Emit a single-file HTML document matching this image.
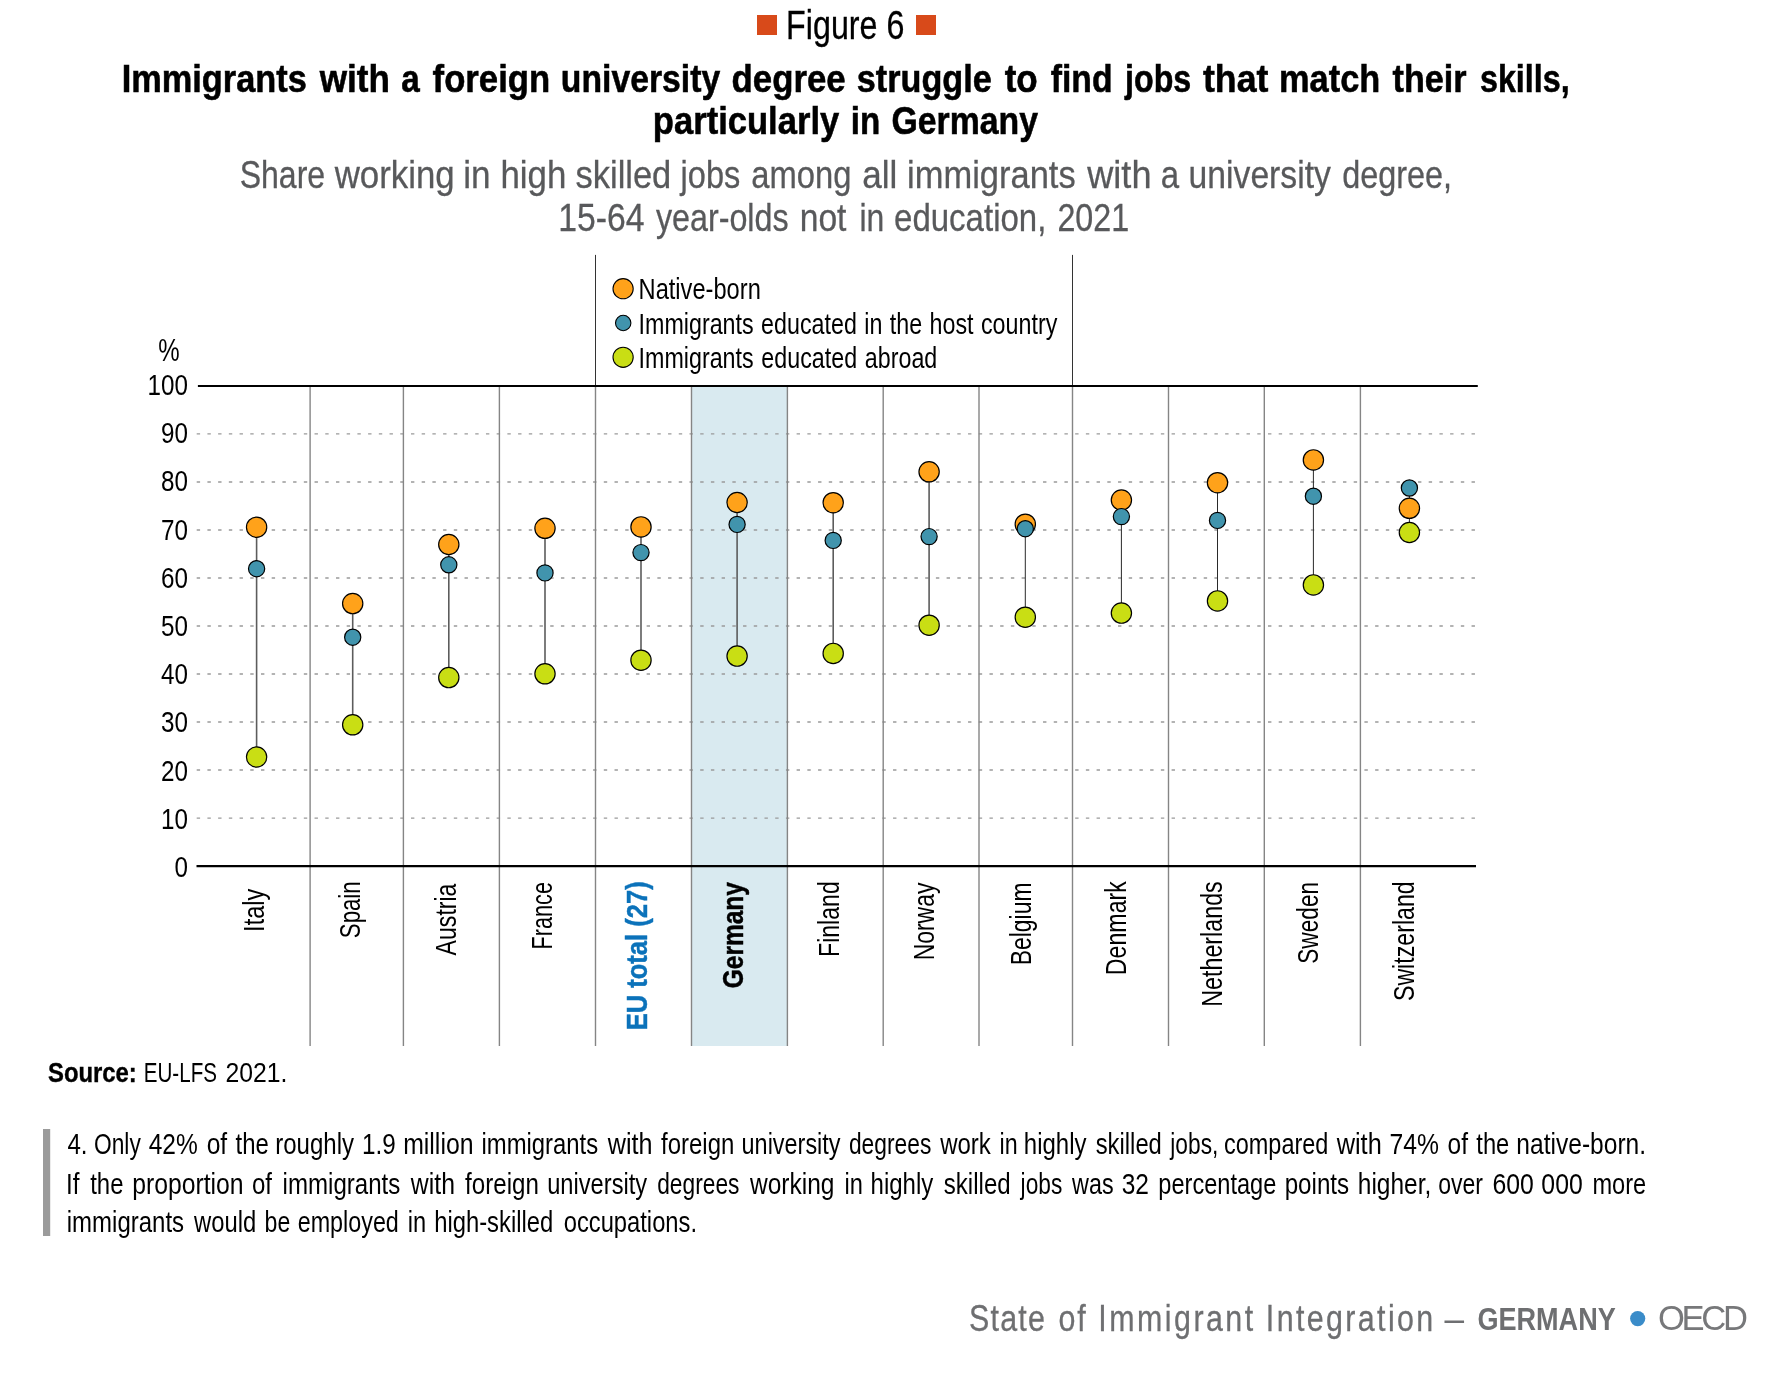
<!DOCTYPE html>
<html lang="en">
<head>
<meta charset="utf-8">
<title>Figure 6 – Immigrants with a foreign university degree struggle to find jobs that match their skills</title>
<style>
html,body{margin:0;padding:0;background:#fff;}
body{width:1782px;height:1374px;overflow:hidden;}
svg{display:block;will-change:transform;}
svg text{font-family:"Liberation Sans", sans-serif;white-space:pre;}
</style>
</head>
<body>
<svg width="1782" height="1374" viewBox="0 0 1782 1374">
<rect width="1782" height="1374" fill="#fff"/>
<g id="shapes">
<rect x="691.5" y="385.9" width="95.9" height="660.1" fill="#D9EAF0"/>
<line x1="196.7" x2="1475.0" y1="818.08" y2="818.08" stroke="#9A9A9A" stroke-width="1.4" stroke-dasharray="3.4 7.313"/>
<line x1="196.7" x2="1475.0" y1="770.06" y2="770.06" stroke="#9A9A9A" stroke-width="1.4" stroke-dasharray="3.4 7.313"/>
<line x1="196.7" x2="1475.0" y1="722.04" y2="722.04" stroke="#9A9A9A" stroke-width="1.4" stroke-dasharray="3.4 7.313"/>
<line x1="196.7" x2="1475.0" y1="674.02" y2="674.02" stroke="#9A9A9A" stroke-width="1.4" stroke-dasharray="3.4 7.313"/>
<line x1="196.7" x2="1475.0" y1="626.00" y2="626.00" stroke="#9A9A9A" stroke-width="1.4" stroke-dasharray="3.4 7.313"/>
<line x1="196.7" x2="1475.0" y1="577.98" y2="577.98" stroke="#9A9A9A" stroke-width="1.4" stroke-dasharray="3.4 7.313"/>
<line x1="196.7" x2="1475.0" y1="529.96" y2="529.96" stroke="#9A9A9A" stroke-width="1.4" stroke-dasharray="3.4 7.313"/>
<line x1="196.7" x2="1475.0" y1="481.94" y2="481.94" stroke="#9A9A9A" stroke-width="1.4" stroke-dasharray="3.4 7.313"/>
<line x1="196.7" x2="1475.0" y1="433.92" y2="433.92" stroke="#9A9A9A" stroke-width="1.4" stroke-dasharray="3.4 7.313"/>
<line x1="310.1" x2="310.1" y1="385.9" y2="1046.0" stroke="#858585" stroke-width="1.4"/>
<line x1="403.4" x2="403.4" y1="385.9" y2="1046.0" stroke="#858585" stroke-width="1.4"/>
<line x1="499.4" x2="499.4" y1="385.9" y2="1046.0" stroke="#858585" stroke-width="1.4"/>
<line x1="595.5" x2="595.5" y1="385.9" y2="1046.0" stroke="#858585" stroke-width="1.4"/>
<line x1="691.5" x2="691.5" y1="385.9" y2="1046.0" stroke="#858585" stroke-width="1.4"/>
<line x1="787.4" x2="787.4" y1="385.9" y2="1046.0" stroke="#858585" stroke-width="1.4"/>
<line x1="883.2" x2="883.2" y1="385.9" y2="1046.0" stroke="#858585" stroke-width="1.4"/>
<line x1="979.0" x2="979.0" y1="385.9" y2="1046.0" stroke="#858585" stroke-width="1.4"/>
<line x1="1072.5" x2="1072.5" y1="385.9" y2="1046.0" stroke="#858585" stroke-width="1.4"/>
<line x1="1168.5" x2="1168.5" y1="385.9" y2="1046.0" stroke="#858585" stroke-width="1.4"/>
<line x1="1264.3" x2="1264.3" y1="385.9" y2="1046.0" stroke="#858585" stroke-width="1.4"/>
<line x1="1360.4" x2="1360.4" y1="385.9" y2="1046.0" stroke="#858585" stroke-width="1.4"/>
<line x1="595.5" x2="595.5" y1="254.9" y2="385.9" stroke="#333" stroke-width="1"/>
<line x1="1072.5" x2="1072.5" y1="254.9" y2="385.9" stroke="#333" stroke-width="1"/>
<line x1="197.9" x2="1477.8" y1="385.9" y2="385.9" stroke="#000" stroke-width="2.05"/>
<line x1="196.5" x2="1476.0" y1="866.1" y2="866.1" stroke="#000" stroke-width="2.05"/>
<line x1="256.6" x2="256.6" y1="527.2" y2="757.0" stroke="#5c5c5c" stroke-width="1.6"/>
<circle cx="256.6" cy="757.0" r="10.15" fill="#C9DE14" stroke="#000" stroke-width="1.2"/>
<circle cx="256.6" cy="527.2" r="10.15" fill="#FFA21A" stroke="#000" stroke-width="1.2"/>
<circle cx="256.6" cy="568.7" r="8.1" fill="#4194AD" stroke="#000" stroke-width="1.2"/>
<line x1="352.7" x2="352.7" y1="603.6" y2="724.8" stroke="#5c5c5c" stroke-width="1.6"/>
<circle cx="352.7" cy="724.8" r="10.15" fill="#C9DE14" stroke="#000" stroke-width="1.2"/>
<circle cx="352.7" cy="603.6" r="10.15" fill="#FFA21A" stroke="#000" stroke-width="1.2"/>
<circle cx="352.7" cy="637.2" r="8.1" fill="#4194AD" stroke="#000" stroke-width="1.2"/>
<line x1="448.8" x2="448.8" y1="544.5" y2="677.6" stroke="#5c5c5c" stroke-width="1.6"/>
<circle cx="448.8" cy="677.6" r="10.15" fill="#C9DE14" stroke="#000" stroke-width="1.2"/>
<circle cx="448.8" cy="544.5" r="10.15" fill="#FFA21A" stroke="#000" stroke-width="1.2"/>
<circle cx="448.8" cy="564.8" r="8.1" fill="#4194AD" stroke="#000" stroke-width="1.2"/>
<line x1="545.0" x2="545.0" y1="528.3" y2="673.8" stroke="#5c5c5c" stroke-width="1.6"/>
<circle cx="545.0" cy="673.8" r="10.15" fill="#C9DE14" stroke="#000" stroke-width="1.2"/>
<circle cx="545.0" cy="528.3" r="10.15" fill="#FFA21A" stroke="#000" stroke-width="1.2"/>
<circle cx="545.0" cy="572.9" r="8.1" fill="#4194AD" stroke="#000" stroke-width="1.2"/>
<line x1="641.0" x2="641.0" y1="526.9" y2="660.2" stroke="#5c5c5c" stroke-width="1.6"/>
<circle cx="641.0" cy="660.2" r="10.15" fill="#C9DE14" stroke="#000" stroke-width="1.2"/>
<circle cx="641.0" cy="526.9" r="10.15" fill="#FFA21A" stroke="#000" stroke-width="1.2"/>
<circle cx="641.0" cy="552.6" r="8.1" fill="#4194AD" stroke="#000" stroke-width="1.2"/>
<line x1="737.1" x2="737.1" y1="502.5" y2="656.1" stroke="#5c5c5c" stroke-width="1.6"/>
<circle cx="737.1" cy="656.1" r="10.15" fill="#C9DE14" stroke="#000" stroke-width="1.2"/>
<circle cx="737.1" cy="502.5" r="10.15" fill="#FFA21A" stroke="#000" stroke-width="1.2"/>
<circle cx="737.1" cy="524.4" r="8.1" fill="#4194AD" stroke="#000" stroke-width="1.2"/>
<line x1="833.2" x2="833.2" y1="502.7" y2="653.4" stroke="#5c5c5c" stroke-width="1.6"/>
<circle cx="833.2" cy="653.4" r="10.15" fill="#C9DE14" stroke="#000" stroke-width="1.2"/>
<circle cx="833.2" cy="502.7" r="10.15" fill="#FFA21A" stroke="#000" stroke-width="1.2"/>
<circle cx="833.2" cy="540.4" r="8.1" fill="#4194AD" stroke="#000" stroke-width="1.2"/>
<line x1="929.1" x2="929.1" y1="471.8" y2="625.2" stroke="#5c5c5c" stroke-width="1.6"/>
<circle cx="929.1" cy="625.2" r="10.15" fill="#C9DE14" stroke="#000" stroke-width="1.2"/>
<circle cx="929.1" cy="471.8" r="10.15" fill="#FFA21A" stroke="#000" stroke-width="1.2"/>
<circle cx="929.1" cy="536.6" r="8.1" fill="#4194AD" stroke="#000" stroke-width="1.2"/>
<line x1="1025.3" x2="1025.3" y1="524.2" y2="617.2" stroke="#2a2a2a" stroke-width="1.0"/>
<circle cx="1025.3" cy="617.2" r="10.15" fill="#C9DE14" stroke="#000" stroke-width="1.2"/>
<circle cx="1025.3" cy="524.2" r="10.15" fill="#FFA21A" stroke="#000" stroke-width="1.2"/>
<circle cx="1025.3" cy="528.7" r="8.1" fill="#4194AD" stroke="#000" stroke-width="1.2"/>
<line x1="1121.4" x2="1121.4" y1="500.1" y2="613.1" stroke="#2a2a2a" stroke-width="1.0"/>
<circle cx="1121.4" cy="613.1" r="10.15" fill="#C9DE14" stroke="#000" stroke-width="1.2"/>
<circle cx="1121.4" cy="500.1" r="10.15" fill="#FFA21A" stroke="#000" stroke-width="1.2"/>
<circle cx="1121.4" cy="516.6" r="8.1" fill="#4194AD" stroke="#000" stroke-width="1.2"/>
<line x1="1217.5" x2="1217.5" y1="482.7" y2="600.9" stroke="#2a2a2a" stroke-width="1.0"/>
<circle cx="1217.5" cy="600.9" r="10.15" fill="#C9DE14" stroke="#000" stroke-width="1.2"/>
<circle cx="1217.5" cy="482.7" r="10.15" fill="#FFA21A" stroke="#000" stroke-width="1.2"/>
<circle cx="1217.5" cy="520.4" r="8.1" fill="#4194AD" stroke="#000" stroke-width="1.2"/>
<line x1="1313.4" x2="1313.4" y1="459.9" y2="584.9" stroke="#2a2a2a" stroke-width="1.0"/>
<circle cx="1313.4" cy="584.9" r="10.15" fill="#C9DE14" stroke="#000" stroke-width="1.2"/>
<circle cx="1313.4" cy="459.9" r="10.15" fill="#FFA21A" stroke="#000" stroke-width="1.2"/>
<circle cx="1313.4" cy="496.2" r="8.1" fill="#4194AD" stroke="#000" stroke-width="1.2"/>
<line x1="1409.4" x2="1409.4" y1="488.0" y2="532.5" stroke="#2a2a2a" stroke-width="1.0"/>
<circle cx="1409.4" cy="532.5" r="10.15" fill="#C9DE14" stroke="#000" stroke-width="1.2"/>
<circle cx="1409.4" cy="508.3" r="10.15" fill="#FFA21A" stroke="#000" stroke-width="1.2"/>
<circle cx="1409.4" cy="488.0" r="8.1" fill="#4194AD" stroke="#000" stroke-width="1.2"/>
<circle cx="623.1" cy="288.7" r="10.1" fill="#FFA21A" stroke="#000" stroke-width="1.1"/>
<circle cx="623.2" cy="323.0" r="7.7" fill="#4194AD" stroke="#000" stroke-width="1.1"/>
<circle cx="623.1" cy="357.3" r="10.1" fill="#C9DE14" stroke="#000" stroke-width="1.1"/>
<rect x="757" y="15" width="20" height="20" fill="#D84A1A"/>
<rect x="916" y="15" width="20" height="20" fill="#D84A1A"/>
<rect x="43" y="1129" width="7.2" height="107" fill="#9B9B9B"/>
<circle cx="1637.7" cy="1318.6" r="7.6" fill="#3A8CC9"/>
</g>
<g id="labels">
<text transform="translate(786.11 38.90) scale(0.7981 1)" font-size="40.4" stroke="#000" stroke-width="0.3">Figure 6</text>
<text transform="translate(158.32 360.50) scale(0.7769 1)" font-size="31.0">%</text>
<text transform="translate(174.47 876.50) scale(0.8350 1)" font-size="29.0">0</text>
<text transform="translate(161.01 828.80) scale(0.8350 1)" font-size="29.0">10</text>
<text transform="translate(161.01 780.90) scale(0.8350 1)" font-size="29.0">20</text>
<text transform="translate(161.01 732.00) scale(0.8350 1)" font-size="29.0">30</text>
<text transform="translate(161.01 683.80) scale(0.8350 1)" font-size="29.0">40</text>
<text transform="translate(161.01 636.20) scale(0.8350 1)" font-size="29.0">50</text>
<text transform="translate(161.01 588.40) scale(0.8350 1)" font-size="29.0">60</text>
<text transform="translate(161.01 540.30) scale(0.8350 1)" font-size="29.0">70</text>
<text transform="translate(161.01 491.20) scale(0.8350 1)" font-size="29.0">80</text>
<text transform="translate(161.01 443.20) scale(0.8350 1)" font-size="29.0">90</text>
<text transform="translate(147.54 395.00) scale(0.8350 1)" font-size="29.0">100</text>
<text transform="translate(638.56 299.40) scale(0.8215 1)" font-size="28.8">Native-born</text>
<text transform="translate(638.58 333.80) scale(0.8085 1)" font-size="28.8" style="word-spacing:1.188px;">Immigrants educated in the host country</text>
<text transform="translate(638.58 368.10) scale(0.8085 1)" font-size="28.8" style="word-spacing:1.524px;">Immigrants educated abroad</text>
<text transform="translate(264.20 931.89) rotate(-90) scale(0.7965 1)" font-size="29.6">Italy</text>
<text transform="translate(360.30 938.15) rotate(-90) scale(0.7510 1)" font-size="29.6">Spain</text>
<text transform="translate(455.90 955.40) rotate(-90) scale(0.7804 1)" font-size="29.6">Austria</text>
<text transform="translate(551.80 949.46) rotate(-90) scale(0.7318 1)" font-size="29.6">France</text>
<text transform="translate(647.10 1030.36) rotate(-90) scale(0.8636 1)" font-size="29.6" font-weight="700" fill="#0B72BA" stroke="#0B72BA" stroke-width="0.45">EU total (27)</text>
<text transform="translate(743.00 988.13) rotate(-90) scale(0.8252 1)" font-size="29.6" font-weight="700" stroke="#000" stroke-width="0.45">Germany</text>
<text transform="translate(838.60 956.96) rotate(-90) scale(0.7799 1)" font-size="29.6">Finland</text>
<text transform="translate(934.00 960.35) rotate(-90) scale(0.7755 1)" font-size="29.6">Norway</text>
<text transform="translate(1030.50 965.35) rotate(-90) scale(0.7747 1)" font-size="29.6">Belgium</text>
<text transform="translate(1125.90 975.17) rotate(-90) scale(0.7831 1)" font-size="29.6">Denmark</text>
<text transform="translate(1221.90 1006.67) rotate(-90) scale(0.7858 1)" font-size="29.6">Netherlands</text>
<text transform="translate(1317.50 963.77) rotate(-90) scale(0.7657 1)" font-size="29.6">Sweden</text>
<text transform="translate(1413.50 1001.08) rotate(-90) scale(0.7833 1)" font-size="29.6">Switzerland</text>
<text transform="translate(48.00 1081.80) scale(0.8433 1)" font-size="28.3" font-weight="700" stroke="#000" stroke-width="0.4">Source: </text>
<text transform="translate(143.75 1081.80) scale(0.7273 1)" font-size="28.3">EU-LFS </text>
<text transform="translate(225.52 1081.80) scale(0.8756 1)" font-size="28.3">2021.</text>
<text transform="translate(968.97 1330.50) scale(0.8300 1)" font-size="36.6" fill="#6E6F71" style="letter-spacing:1.523px;" stroke="#6E6F71" stroke-width="0.3">State </text>
<text transform="translate(1058.47 1330.50) scale(0.8300 1)" font-size="36.6" fill="#6E6F71" style="letter-spacing:2.187px;" stroke="#6E6F71" stroke-width="0.3">of </text>
<text transform="translate(1098.31 1330.50) scale(0.8300 1)" font-size="36.6" fill="#6E6F71" style="letter-spacing:2.992px;" stroke="#6E6F71" stroke-width="0.3">Immigrant </text>
<text transform="translate(1265.81 1330.50) scale(0.8300 1)" font-size="36.6" fill="#6E6F71" style="letter-spacing:2.875px;" stroke="#6E6F71" stroke-width="0.3">Integration </text>
<text transform="translate(1444.60 1330.50) scale(0.9619 1)" font-size="36.6" fill="#6E6F71">– </text>
<text transform="translate(1477.44 1329.80) scale(0.8565 1)" font-size="31.6" font-weight="700" fill="#6E6F71">GERMANY </text>
<text transform="translate(1658.00 1329.80) scale(1.0000 1)" font-size="34.6" fill="#77787A" style="letter-spacing:-3.310px;">OECD</text>
<text transform="translate(121.63 91.80) scale(0.8836 1)" font-size="38.9" font-weight="700" stroke="#000" stroke-width="0.55">Immigrants </text>
<text transform="translate(319.70 91.80) scale(0.9025 1)" font-size="38.9" font-weight="700" stroke="#000" stroke-width="0.55">with </text>
<text transform="translate(401.22 91.80) scale(0.8551 1)" font-size="38.9" font-weight="700" stroke="#000" stroke-width="0.55">a </text>
<text transform="translate(432.60 91.80) scale(0.8921 1)" font-size="38.9" font-weight="700" stroke="#000" stroke-width="0.55">foreign </text>
<text transform="translate(560.87 91.80) scale(0.8671 1)" font-size="38.9" font-weight="700" stroke="#000" stroke-width="0.55">university </text>
<text transform="translate(731.61 91.80) scale(0.8943 1)" font-size="38.9" font-weight="700" stroke="#000" stroke-width="0.55">degree </text>
<text transform="translate(856.82 91.80) scale(0.8795 1)" font-size="38.9" font-weight="700" stroke="#000" stroke-width="0.55">struggle </text>
<text transform="translate(1004.70 91.80) scale(0.9012 1)" font-size="38.9" font-weight="700" stroke="#000" stroke-width="0.55">to </text>
<text transform="translate(1050.80 91.80) scale(0.8660 1)" font-size="38.9" font-weight="700" stroke="#000" stroke-width="0.55">find </text>
<text transform="translate(1125.00 91.80) scale(0.8287 1)" font-size="38.9" font-weight="700" stroke="#000" stroke-width="0.55">jobs </text>
<text transform="translate(1203.00 91.80) scale(0.9168 1)" font-size="38.9" font-weight="700" stroke="#000" stroke-width="0.55">that </text>
<text transform="translate(1279.03 91.80) scale(0.8837 1)" font-size="38.9" font-weight="700" stroke="#000" stroke-width="0.55">match </text>
<text transform="translate(1392.60 91.80) scale(0.8783 1)" font-size="38.9" font-weight="700" stroke="#000" stroke-width="0.55">their </text>
<text transform="translate(1479.97 91.80) scale(0.8300 1)" font-size="38.9" font-weight="700" stroke="#000" stroke-width="0.55">skills,</text>
<text transform="translate(652.82 133.90) scale(0.8893 1)" font-size="38.9" font-weight="700" stroke="#000" stroke-width="0.55">particularly </text>
<text transform="translate(850.80 133.90) scale(0.8531 1)" font-size="38.9" font-weight="700" stroke="#000" stroke-width="0.55">in </text>
<text transform="translate(891.43 133.90) scale(0.8698 1)" font-size="38.9" font-weight="700" stroke="#000" stroke-width="0.55">Germany</text>
<text transform="translate(239.69 188.30) scale(0.8089 1)" font-size="39.6" fill="#58595B" stroke="#58595B" stroke-width="0.3">Share </text>
<text transform="translate(334.68 188.30) scale(0.8791 1)" font-size="39.6" fill="#58595B" stroke="#58595B" stroke-width="0.3">working </text>
<text transform="translate(463.30 188.30) scale(0.8864 1)" font-size="39.6" fill="#58595B" stroke="#58595B" stroke-width="0.3">in </text>
<text transform="translate(500.44 188.30) scale(0.8812 1)" font-size="39.6" fill="#58595B" stroke="#58595B" stroke-width="0.3">high </text>
<text transform="translate(575.53 188.30) scale(0.8703 1)" font-size="39.6" fill="#58595B" stroke="#58595B" stroke-width="0.3">skilled </text>
<text transform="translate(680.62 188.30) scale(0.8212 1)" font-size="39.6" fill="#58595B" stroke="#58595B" stroke-width="0.3">jobs </text>
<text transform="translate(751.37 188.30) scale(0.8271 1)" font-size="39.6" fill="#58595B" stroke="#58595B" stroke-width="0.3">among </text>
<text transform="translate(862.30 188.30) scale(0.8864 1)" font-size="39.6" fill="#58595B" stroke="#58595B" stroke-width="0.3">all </text>
<text transform="translate(907.06 188.30) scale(0.8708 1)" font-size="39.6" fill="#58595B" stroke="#58595B" stroke-width="0.3">immigrants </text>
<text transform="translate(1087.27 188.30) scale(0.9122 1)" font-size="39.6" fill="#58595B" stroke="#58595B" stroke-width="0.3">with </text>
<text transform="translate(1160.63 188.30) scale(0.8348 1)" font-size="39.6" fill="#58595B" stroke="#58595B" stroke-width="0.3">a </text>
<text transform="translate(1188.60 188.30) scale(0.8508 1)" font-size="39.6" fill="#58595B" stroke="#58595B" stroke-width="0.3">university </text>
<text transform="translate(1342.18 188.30) scale(0.8177 1)" font-size="39.6" fill="#58595B" stroke="#58595B" stroke-width="0.3">degree,</text>
<text transform="translate(558.24 230.80) scale(0.8517 1)" font-size="39.6" fill="#58595B" stroke="#58595B" stroke-width="0.3">15-64 </text>
<text transform="translate(655.90 230.80) scale(0.8149 1)" font-size="39.6" fill="#58595B" stroke="#58595B" stroke-width="0.3">year-olds </text>
<text transform="translate(799.70 230.80) scale(0.8489 1)" font-size="39.6" fill="#58595B" stroke="#58595B" stroke-width="0.3">not </text>
<text transform="translate(859.39 230.80) scale(0.8062 1)" font-size="39.6" fill="#58595B" stroke="#58595B" stroke-width="0.3">in </text>
<text transform="translate(894.07 230.80) scale(0.8335 1)" font-size="39.6" fill="#58595B" stroke="#58595B" stroke-width="0.3">education, </text>
<text transform="translate(1057.39 230.80) scale(0.8148 1)" font-size="39.6" fill="#58595B" stroke="#58595B" stroke-width="0.3">2021</text>
<text transform="translate(67.40 1153.70) scale(0.8338 1)" font-size="28.9">4. </text>
<text transform="translate(94.01 1153.70) scale(0.7870 1)" font-size="28.9">Only </text>
<text transform="translate(148.70 1153.70) scale(0.8489 1)" font-size="28.9">42% </text>
<text transform="translate(206.65 1153.70) scale(0.8518 1)" font-size="28.9">of </text>
<text transform="translate(235.60 1153.70) scale(0.8288 1)" font-size="28.9">the </text>
<text transform="translate(275.17 1153.70) scale(0.8324 1)" font-size="28.9">roughly </text>
<text transform="translate(362.02 1153.70) scale(0.8411 1)" font-size="28.9">1.9 </text>
<text transform="translate(403.14 1153.70) scale(0.8596 1)" font-size="28.9">million </text>
<text transform="translate(481.47 1153.70) scale(0.8261 1)" font-size="28.9">immigrants </text>
<text transform="translate(607.77 1153.70) scale(0.8712 1)" font-size="28.9">with </text>
<text transform="translate(661.00 1153.70) scale(0.8296 1)" font-size="28.9">foreign </text>
<text transform="translate(741.59 1153.70) scale(0.8110 1)" font-size="28.9">university </text>
<text transform="translate(848.91 1153.70) scale(0.7896 1)" font-size="28.9">degrees </text>
<text transform="translate(940.23 1153.70) scale(0.8297 1)" font-size="28.9">work </text>
<text transform="translate(999.48 1153.70) scale(0.8047 1)" font-size="28.9">in </text>
<text transform="translate(1023.84 1153.70) scale(0.8306 1)" font-size="28.9">highly </text>
<text transform="translate(1095.70 1153.70) scale(0.8243 1)" font-size="28.9">skilled </text>
<text transform="translate(1170.29 1153.70) scale(0.7867 1)" font-size="28.9">jobs, </text>
<text transform="translate(1223.99 1153.70) scale(0.8125 1)" font-size="28.9">compared </text>
<text transform="translate(1336.68 1153.70) scale(0.8770 1)" font-size="28.9">with </text>
<text transform="translate(1389.51 1153.70) scale(0.8545 1)" font-size="28.9">74% </text>
<text transform="translate(1447.55 1153.70) scale(0.8476 1)" font-size="28.9">of </text>
<text transform="translate(1476.30 1153.70) scale(0.8211 1)" font-size="28.9">the </text>
<text transform="translate(1516.35 1153.70) scale(0.8506 1)" font-size="28.9">native-born.</text>
<text transform="translate(65.92 1193.70) scale(0.8385 1)" font-size="28.9">If </text>
<text transform="translate(90.20 1193.70) scale(0.8288 1)" font-size="28.9">the </text>
<text transform="translate(132.14 1193.70) scale(0.8569 1)" font-size="28.9">proportion </text>
<text transform="translate(251.97 1193.70) scale(0.8310 1)" font-size="28.9">of </text>
<text transform="translate(282.57 1193.70) scale(0.8339 1)" font-size="28.9">immigrants </text>
<text transform="translate(410.86 1193.70) scale(0.8575 1)" font-size="28.9">with </text>
<text transform="translate(465.10 1193.70) scale(0.8353 1)" font-size="28.9">foreign </text>
<text transform="translate(547.18 1193.70) scale(0.8192 1)" font-size="28.9">university </text>
<text transform="translate(657.21 1193.70) scale(0.7877 1)" font-size="28.9">degrees </text>
<text transform="translate(749.95 1193.70) scale(0.8484 1)" font-size="28.9">working </text>
<text transform="translate(844.48 1193.70) scale(0.8179 1)" font-size="28.9">in </text>
<text transform="translate(870.54 1193.70) scale(0.8320 1)" font-size="28.9">highly </text>
<text transform="translate(943.80 1193.70) scale(0.8332 1)" font-size="28.9">skilled </text>
<text transform="translate(1020.59 1193.70) scale(0.7861 1)" font-size="28.9">jobs </text>
<text transform="translate(1072.07 1193.70) scale(0.8082 1)" font-size="28.9">was </text>
<text transform="translate(1121.65 1193.70) scale(0.8481 1)" font-size="28.9">32 </text>
<text transform="translate(1158.28 1193.70) scale(0.8169 1)" font-size="28.9">percentage </text>
<text transform="translate(1284.66 1193.70) scale(0.8368 1)" font-size="28.9">points </text>
<text transform="translate(1357.81 1193.70) scale(0.8475 1)" font-size="28.9">higher, </text>
<text transform="translate(1438.20 1193.70) scale(0.7970 1)" font-size="28.9">over </text>
<text transform="translate(1492.45 1193.70) scale(0.8582 1)" font-size="28.9">600 </text>
<text transform="translate(1541.35 1193.70) scale(0.8582 1)" font-size="28.9">000 </text>
<text transform="translate(1592.38 1193.70) scale(0.8172 1)" font-size="28.9">more</text>
<text transform="translate(66.77 1232.00) scale(0.8304 1)" font-size="28.9">immigrants </text>
<text transform="translate(194.12 1232.00) scale(0.8247 1)" font-size="28.9">would </text>
<text transform="translate(264.58 1232.00) scale(0.7996 1)" font-size="28.9">be </text>
<text transform="translate(297.69 1232.00) scale(0.8076 1)" font-size="28.9">employed </text>
<text transform="translate(407.68 1232.00) scale(0.8179 1)" font-size="28.9">in </text>
<text transform="translate(434.15 1232.00) scale(0.8243 1)" font-size="28.9">high-skilled </text>
<text transform="translate(563.68 1232.00) scale(0.8223 1)" font-size="28.9">occupations.</text>
</g>
</svg>
</body>
</html>
